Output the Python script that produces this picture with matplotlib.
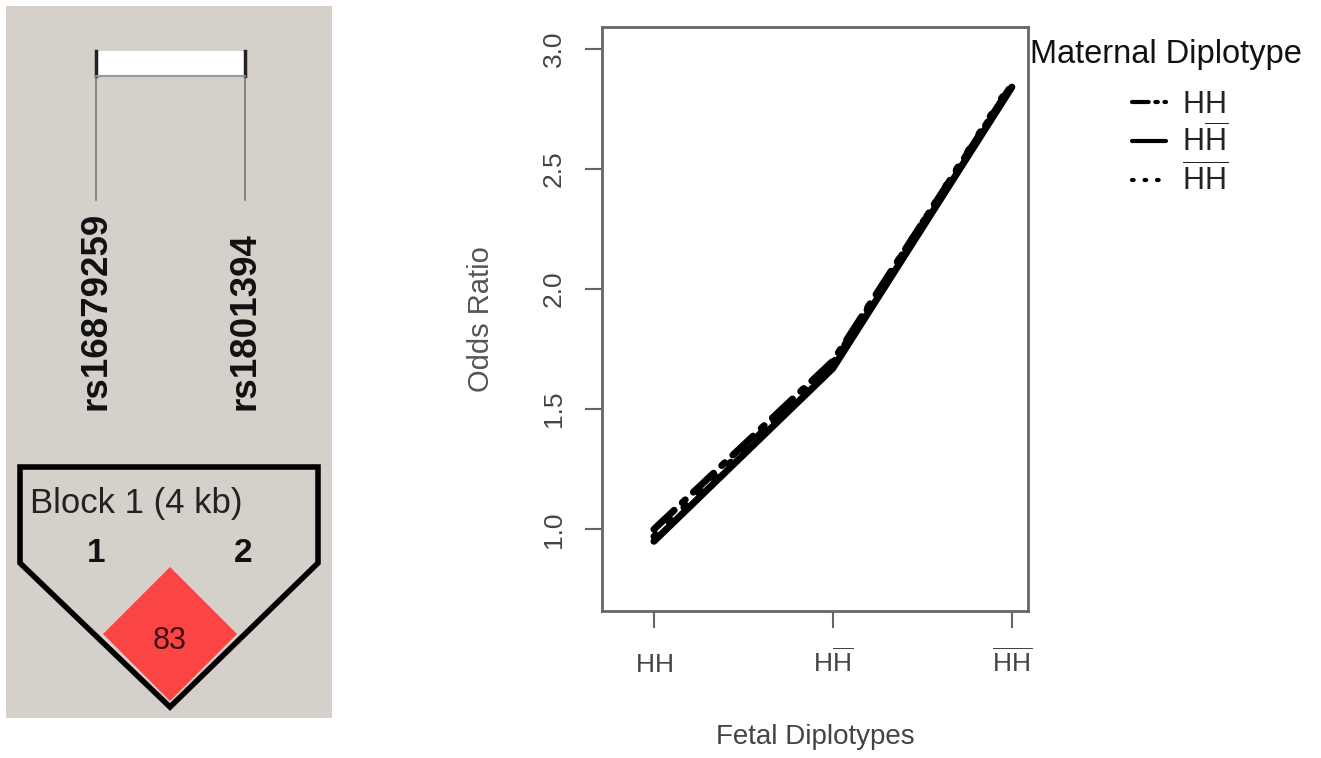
"""
LD block panel + odds ratio by fetal / maternal diplotype
"""
import numpy as np
import matplotlib
matplotlib.use("Agg")
import matplotlib.pyplot as plt
from matplotlib.patches import Rectangle, Polygon

plt.rcParams["font.family"] = ["Liberation Sans", "DejaVu Sans"]
plt.rcParams["mathtext.fontset"] = "custom"
plt.rcParams["mathtext.rm"] = "Liberation Sans"
plt.rcParams["mathtext.it"] = "Liberation Sans"

# ---- data ----
fetal_labels = [r"$\mathrm{HH}$", r"$\mathrm{H\overline{H}}$", r"$\mathrm{\overline{HH}}$"]
maternal_labels = [r"$\mathrm{HH}$", r"$\mathrm{H\overline{H}}$", r"$\mathrm{\overline{HH}}$"]
or_mat_hh = [1.00, 1.70, 2.85]
or_mat_hhbar = [0.95, 1.67, 2.84]
or_mat_hbarhbar = [0.97, 1.69, 2.86]
y_ticks = [1.0, 1.5, 2.0, 2.5, 3.0]

snp_names = ["rs16879259", "rs1801394"]
block_label = "Block 1 (4 kb)"
ld_value = 83

W, H = 1321, 758
fig = plt.figure(figsize=(W / 100, H / 100), dpi=100)

# ---- left panel (haploview style), drawn in pixel coords ----
bg = fig.add_axes([0, 0, 1, 1])
bg.set_xlim(0, W)
bg.set_ylim(H, 0)
bg.axis("off")

bg.add_patch(Rectangle((6, 6), 326, 712, facecolor="#d5d1ca", edgecolor="none"))
bg.add_patch(Rectangle((96, 51), 149, 25, facecolor="white", edgecolor="none"))
bg.plot([96, 96], [51, 76], color="#222", lw=2.5)
bg.plot([245, 245], [51, 76], color="#222", lw=2.5)
bg.plot([96, 245], [76, 76], color="#999", lw=1.5)
for x in (96, 245):
    bg.plot([x, x], [76, 200], color="#777", lw=1.2)
for x, name in zip((96, 245), snp_names):
    bg.text(x, 410, name, rotation=90, ha="center", va="bottom",
            fontsize=26.5, fontweight="bold", color="#111")

bg.add_patch(Polygon([(170, 567), (237, 634), (170, 701), (103, 634)],
                     closed=True, facecolor="#fb4545", edgecolor="none"))
bg.add_patch(Polygon([(20, 467), (318, 467), (318, 563), (170, 707), (20, 563)],
                     closed=True, facecolor="none", edgecolor="black", lw=4,
                     joinstyle="miter"))
bg.text(30, 503, block_label, ha="left", va="center", fontsize=25, color="#222")
bg.text(96, 553, "1", ha="center", va="center", fontsize=24, fontweight="bold", color="#111")
bg.text(243, 553, "2", ha="center", va="center", fontsize=24, fontweight="bold", color="#111")
bg.text(170, 641, str(ld_value), ha="center", va="center", fontsize=22, color="#3a1010")

# ---- right panel: odds ratio plot ----
ax = fig.add_axes([602 / W, 1 - 611 / H, 426 / W, 584 / H])
x = np.arange(1, 4)
ax.plot(x, or_mat_hh, color="black", lw=5, linestyle=(0, (4, 1.6, 0.6, 1.6)),
        dash_capstyle="round", label=maternal_labels[0])
ax.plot(x, or_mat_hhbar, color="black", lw=5, solid_capstyle="round",
        label=maternal_labels[1])
ax.plot(x, or_mat_hbarhbar, color="black", lw=5, linestyle=(0, (0.4, 2.6)),
        dash_capstyle="round", label=maternal_labels[2])

ax.set_xlim(0.71, 3.09)
ax.set_ylim(0.66, 3.09)
ax.set_xticks(x)
ax.set_xticklabels(fetal_labels, va="baseline")
ax.set_yticks(y_ticks)
ax.set_yticklabels([f"{v:.1f}" for v in y_ticks], rotation=90, va="center")
ax.tick_params(axis="both", length=12, width=1.5, color="#666", labelcolor="#444",
               labelsize=19, pad=14)
ax.tick_params(axis="x", pad=32)
for sp in ax.spines.values():
    sp.set_color("#666")
    sp.set_linewidth(2)
ax.set_xlabel("Fetal Diplotypes", fontsize=20, color="#444", labelpad=34)
ax.set_ylabel("Odds Ratio", fontsize=21, color="#555", labelpad=34)

fig.text(1030 / W, 1 - 55 / H, "Maternal Diplotype", ha="left", va="center",
         fontsize=23.5, color="#111")
leg = ax.legend(loc="upper left", bbox_to_anchor=(1132 / W, 1 - 90 / H),
                bbox_transform=fig.transFigure, frameon=False, fontsize=22,
                handlelength=1.1, handletextpad=0.55, labelspacing=0.15,
                borderpad=0, borderaxespad=0)
for ln in leg.get_lines():
    ln.set_linewidth(3)
for t in leg.get_texts():
    t.set_color("#222")

fig.savefig("out.png", dpi=100)
